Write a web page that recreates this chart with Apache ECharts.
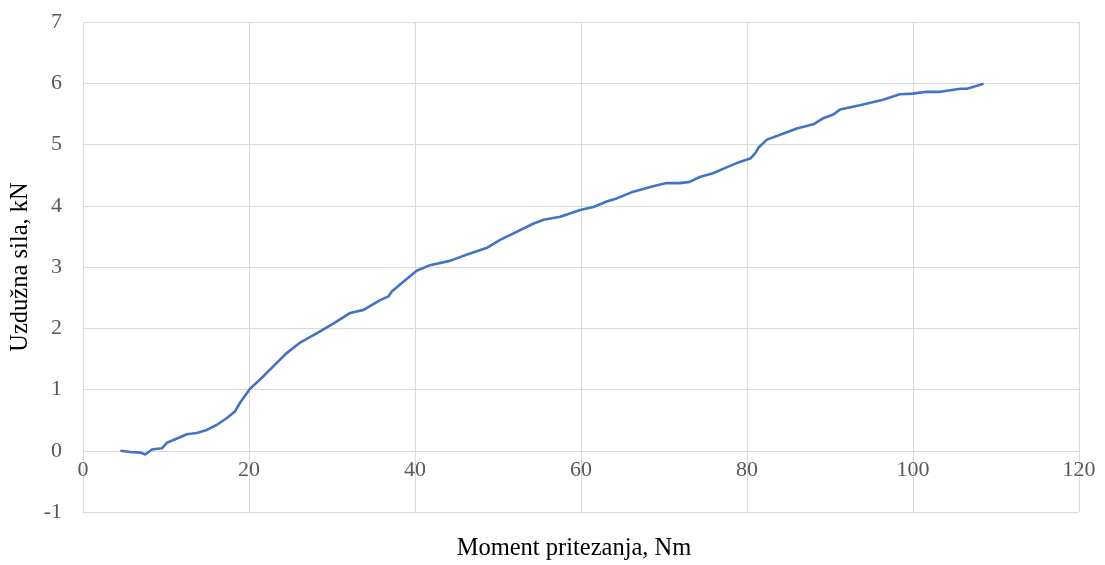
<!DOCTYPE html>
<html>
<head>
<meta charset="utf-8">
<script src="https://cdn.jsdelivr.net/npm/echarts@6/dist/echarts.min.js"></script>
<style>html,body{margin:0;padding:0;background:#fff}#c{width:1105px;height:565px}</style>
</head>
<body>
<div id="c"></div>
<script>
var momentNm = [4.5,5.7,6.9,7.5,8.3,9.5,10.1,11.7,12.5,13.7,14.9,16.1,17.3,18.3,18.9,20.1,21.3,22.5,24.5,26.1,28.2,30.2,32.2,33.8,35.8,36.8,37.2,38.6,40.2,41.8,44.2,46.2,48.6,50.2,54.3,55.5,57.5,59.9,61.5,63.1,64.3,66.3,68.7,70.3,71.9,73.1,74.3,75.9,77.6,79.2,80.4,81.0,81.4,82.4,84.4,86.0,88.0,89.2,90.4,91.2,93.6,96.4,98.4,100.0,101.6,103.3,105.7,106.5,108.5];
var silaKN = [0.0,-0.02,-0.03,-0.06,0.02,0.04,0.13,0.22,0.27,0.29,0.34,0.42,0.53,0.64,0.78,1.01,1.16,1.32,1.59,1.76,1.92,2.08,2.25,2.30,2.46,2.52,2.60,2.76,2.94,3.03,3.10,3.20,3.31,3.44,3.71,3.77,3.82,3.93,3.98,4.07,4.12,4.23,4.32,4.37,4.37,4.39,4.47,4.53,4.63,4.72,4.77,4.86,4.95,5.08,5.18,5.26,5.33,5.43,5.49,5.57,5.64,5.73,5.82,5.83,5.86,5.86,5.91,5.91,5.99];
var xTitle = 'Moment pritezanja, Nm';
var yTitle = 'Uzdužna sila, kN';
var yMin = -1, yMax = 7;

var pts = momentNm.map(function(x,i){return [x, silaKN[i]];});
var font = 'Liberation Serif';
var gridTop = 22, gridBottom = 53, H = 565;
var plotH = H - gridTop - gridBottom;
var zeroOffset = -((0 - yMin) / (yMax - yMin)) * plotH;
var chart = echarts.init(document.getElementById('c'), null, {renderer:'canvas'});
chart.setOption({
  animation:false,
  backgroundColor:'#ffffff',
  grid:{left:83,right:26,top:gridTop,bottom:gridBottom,containLabel:false,outerBoundsMode:'none'},
  xAxis:{type:'value',min:0,max:120,interval:20,offset:zeroOffset,
    axisLine:{show:true,onZero:false,lineStyle:{color:'#d9d9d9',width:1}},
    axisTick:{show:false},
    axisLabel:{color:'#595959',fontFamily:font,fontSize:22,margin:8},
    splitLine:{show:true,lineStyle:{color:'#d9d9d9',width:1}},
    name:xTitle,nameLocation:'middle',nameGap:98,
    nameTextStyle:{color:'#000',fontFamily:font,fontSize:24.5,verticalAlign:'middle',padding:[0,14,0,0]}
  },
  yAxis:{type:'value',min:yMin,max:yMax,interval:1,
    axisLine:{show:false},
    axisTick:{show:false},
    axisLabel:{color:'#595959',fontFamily:font,fontSize:22,margin:21},
    splitLine:{show:true,lineStyle:{color:'#d9d9d9',width:1}},
    name:yTitle,nameLocation:'middle',nameGap:42,
    nameTextStyle:{color:'#000',fontFamily:font,fontSize:24.5}
  },
  series:[{type:'line',data:pts,showSymbol:false,smooth:false,
    lineStyle:{color:'#4472C4',width:2.6},itemStyle:{color:'#4472C4'}}]
});
</script>
</body>
</html>
